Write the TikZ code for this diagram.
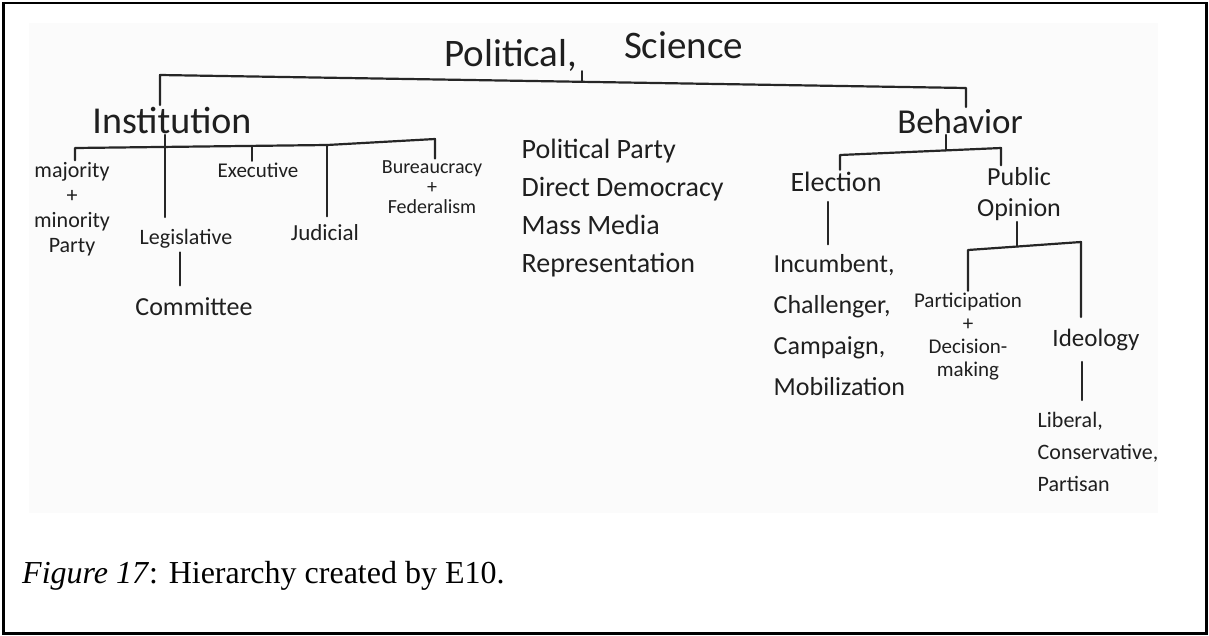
\documentclass[tikz,border=0pt]{standalone}
\usepackage{fontspec}
\setmainfont{Liberation Serif}
\newfontfamily\handfam{Carlito}
\usetikzlibrary{calc}
% handwritten-style lettering at a given size and line spacing
\newcommand\hwfont[2]{\fontsize{#1}{#2}\selectfont\handfam}
\begin{document}
\begin{tikzpicture}[x=1pt,y=-1pt,
  hw/.style={inner sep=1.5pt, text=black!88},
  link/.style={line width=2.2pt, draw=black!85, line cap=round, line join=round},
]
\useasboundingbox (0,0) rectangle (1209,635);
% scanned sheet and frame
\fill[black!1.5] (29,23) rectangle (1158,513);
\draw[line width=2.5pt] (3.5,3) rectangle (1206.5,633.5);

% ---------- labels (multi-line labels are placed by their last baseline) ----------
\node[hw, anchor=base west, inner sep=0, font=\hwfont{39}{45}] (title) at (444,66)
  {Political,\hspace{1.2em}\raisebox{8pt}{Science}};

\node[hw, anchor=base, font=\hwfont{38}{44}] (inst) at (172,133) {Institution};
\node[hw, anchor=base, font=\hwfont{35}{40}] (beh) at (960,133) {Behavior};

\node[hw, anchor=base, align=center, font=\hwfont{22}{25}] (maj) at (72,252)
  {majority\\+\\minority\\Party};
\node[hw, anchor=base, font=\hwfont{22}{25}] (leg) at (186,244) {Legislative};
\node[hw, anchor=base, font=\hwfont{26}{30}] (com) at (194,315) {Committee};
\node[hw, anchor=base, font=\hwfont{21}{25}] (exe) at (258,177) {Executive};
\node[hw, anchor=base, font=\hwfont{23}{27}] (jud) at (325,240) {Judicial};
\node[hw, anchor=base, align=center, font=\hwfont{20}{20}] (bur) at (432,213)
  {Bureaucracy\\+\\Federalism};

\node[hw, anchor=base west, align=left, font=\hwfont{28}{38}] (plist) at (520,272)
  {Political Party\\Direct Democracy\\Mass Media\\Representation};

\node[hw, anchor=base, font=\hwfont{28}{32}] (ele) at (836,191) {Election};
\node[hw, anchor=base, align=center, font=\hwfont{26}{31}] (pub) at (1019,216)
  {Public\\Opinion};
\node[hw, anchor=base west, align=left, font=\hwfont{26}{41}] (inc) at (772,395)
  {Incumbent,\\Challenger,\\Campaign,\\Mobilization};
\node[hw, anchor=base, align=center, font=\hwfont{21}{23}] (par) at (968,376)
  {Participation\\+\\Decision-\\making};
\node[hw, anchor=base, font=\hwfont{25}{30}] (ide) at (1096,346) {Ideology};
\node[hw, anchor=base west, align=left, font=\hwfont{22}{32}] (lib) at (1036,491)
  {Liberal,\\Conservative,\\Partisan};

\node[anchor=base west, inner sep=0, font=\fontsize{32}{40}\selectfont] (cap) at (22,583)
  {\textit{Figure 17}: Hierarchy created by E10.};

% ---------- connectors ----------
% top level
\coordinate (tl) at (160,75);
\coordinate (tr) at (966,88);
\coordinate (tj) at ($(tl)!0.524!(tr)$);
\draw[link] (title.south -| tj) -- (tj);
\draw[link] (inst.north -| tl) -- (tl) -- (tr) -- (beh.north -| tr);

% institution branch
\coordinate (ia) at (75,148);
\coordinate (ib) at (327,145);
\coordinate (ic) at (435,139);
\coordinate (ileg) at ($(ia)!0.357!(ib)$);
\coordinate (iexe) at ($(ia)!0.702!(ib)$);
\coordinate (lx) at (180,0);
\draw[link] (maj.north -| ia) -- (ia) -- (ib) -- (ic) -- (bur.north -| ic);
\draw[link, shorten >=10pt] (inst.south -| ileg) -- (leg.north -| ileg);
\draw[link] (iexe) -- (exe.north -| iexe);
\draw[link, shorten >=6pt] (ib) -- (jud.north -| ib);
\draw[link, shorten <=3pt, shorten >=10pt] (leg.south -| lx) -- (com.north -| lx);

% behavior branch
\coordinate (ba) at (840,155);
\coordinate (bb) at (1001,148);
\coordinate (bj) at ($(ba)!0.658!(bb)$);
\coordinate (ex) at (828,0);
\draw[link] (beh.south -| bj) -- (bj);
\draw[link] (ele.north -| ba) -- (ba) -- (bb) -- (pub.north -| bb);
\draw[link, shorten <=9pt, shorten >=8pt] (ele.south -| ex) -- (inc.north -| ex);

% public opinion branch
\coordinate (pa) at (968,250);
\coordinate (pb) at (1081,242);
\coordinate (pj) at ($(pa)!0.432!(pb)$);
\coordinate (ix) at (1082,0);
\draw[link] (pub.south -| pj) -- (pj);
\draw[link, shorten >=10pt] (par.north -| pa) -- (pa) -- (pb) -- (ide.north -| pb);
\draw[link, shorten <=10pt, shorten >=10pt] (ide.south -| ix) -- (lib.north -| ix);
\end{tikzpicture}
\end{document}
